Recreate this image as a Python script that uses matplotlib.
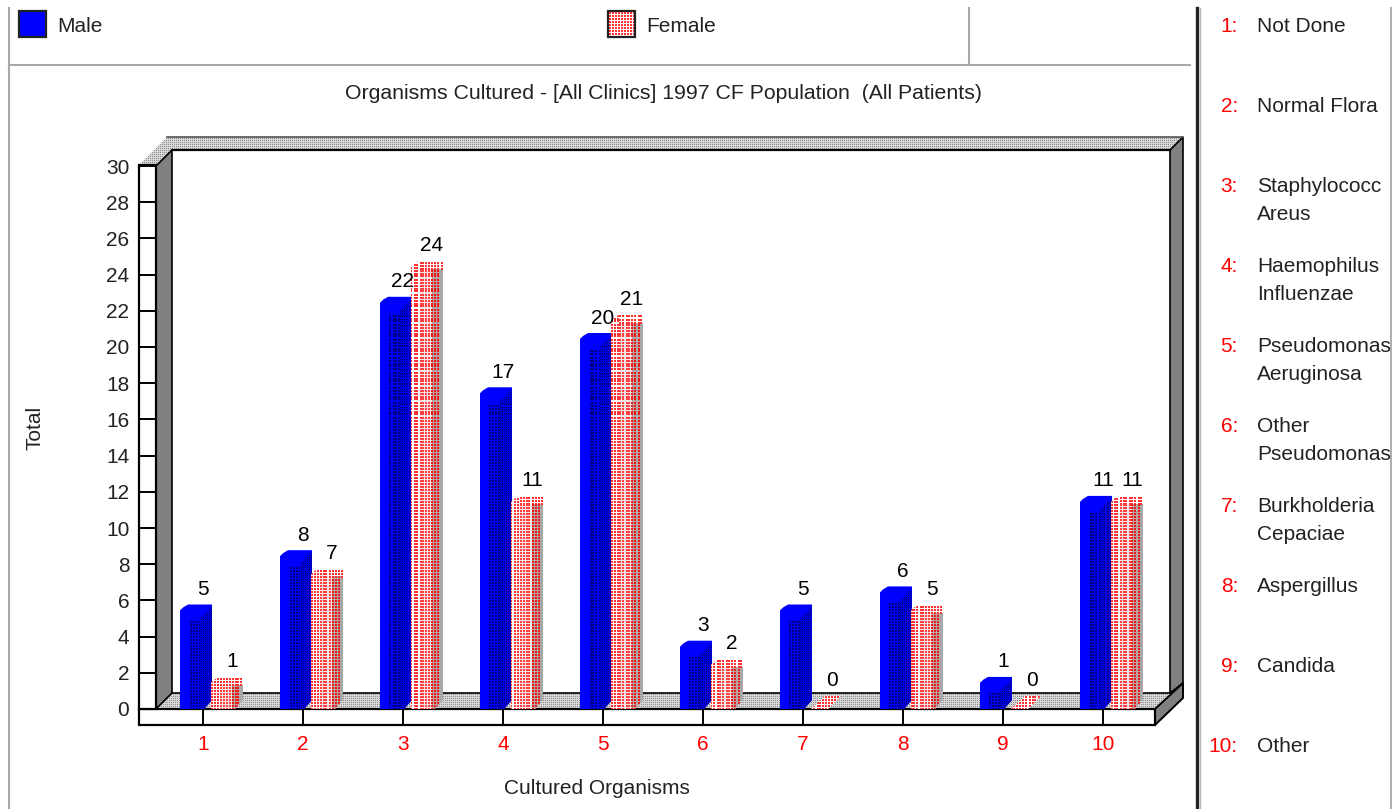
import matplotlib
matplotlib.use("Agg")
import matplotlib.pyplot as plt
import numpy as np
from matplotlib.patches import Polygon, Rectangle

plt.rcParams['font.family'] = ['Liberation Sans', 'DejaVu Sans']

categories = [1, 2, 3, 4, 5, 6, 7, 8, 9, 10]
male = [5, 8, 22, 17, 20, 3, 5, 6, 1, 11]
female = [1, 7, 24, 11, 21, 2, 0, 5, 0, 11]
y_ticks = list(range(0, 31, 2))

title = "Organisms Cultured - [All Clinics] 1997 CF Population  (All Patients)"
key_numbers = ["1:", "2:", "3:", "4:", "5:", "6:", "7:", "8:", "9:", "10:"]
key_names = ["Not Done", "Normal Flora", "Staphylococc\nAreus", "Haemophilus\nInfluenzae",
             "Pseudomonas\nAeruginosa", "Other\nPseudomonas", "Burkholderia\nCepaciae",
             "Aspergillus", "Candida", "Other"]

W, H = 1392, 809
FS = 15
BLUE = "#0000ff"
RED = "#ff0000"
DARK = "#222222"
GREY = "#a8a8a8"

fig = plt.figure(figsize=(W / 100, H / 100), dpi=100, facecolor="white")

# ====== Window chrome and 3D box, in pixels ======
bg = fig.add_axes([0, 0, 1, 1], zorder=0)
bg.axis("off")


def stipple(ax, clip, xs, ys, color, size, zorder=2):
    # grid of tiny squares clipped to a polygon; size is in figure pixels
    gx, gy = np.meshgrid(xs, ys)
    coll = ax.scatter(gx.ravel(), gy.ravel(), s=(size * 0.72) ** 2, marker="s", color=color,
                      linewidths=0, zorder=zorder)
    coll.set_clip_path(clip)


def dithered(pts, x_a, x_b, y_a, y_b):
    shape = Polygon(pts, closed=True, facecolor="#d8d8d8", edgecolor="none", zorder=1)
    bg.add_patch(shape)
    stipple(bg, shape, np.arange(x_a, x_b, 2) + 0.5, np.arange(y_a, y_b, 2) + 0.5, "#8c8c8c", 1)


bg.plot([9, 9], [8, H], color=GREY, lw=1.5)
bg.plot([9, 968], [65, 65], color=GREY, lw=1.5)
bg.plot([971, 1190], [65, 65], color=GREY, lw=1.5)
bg.plot([969, 969], [8, 65], color=GREY, lw=1.5)
bg.plot([1197, 1197], [8, H], color="#222222", lw=2.4)
bg.plot([1199.5, 1199.5], [8, H], color="#b8b8b8", lw=1)
bg.plot([1391, 1391], [8, H], color="#b0b0b0", lw=1.5)

# top band and floor are dithered, side walls plain grey
dithered([(139, 165), (167, 137), (1183, 137), (1170, 150), (172, 150), (156, 165)], 139, 1183, 137, 165)
dithered([(156, 709), (172, 693), (1170, 693), (1155, 709)], 156, 1170, 693, 709)
bg.add_patch(Polygon([(156, 166), (172, 150), (172, 693), (156, 709)], facecolor="#808080", edgecolor="black", linewidth=1.2, zorder=3))
bg.add_patch(Polygon([(1170, 150), (1183, 137), (1183, 683), (1170, 693)], facecolor="#808080", edgecolor="black", linewidth=1.2, zorder=3))
bg.add_patch(Polygon([(1155, 709), (1183, 683), (1183, 698), (1155, 725)], facecolor="#808080", edgecolor="black", linewidth=1.4, zorder=3))
bg.add_patch(Rectangle((139, 709), 1016, 16, facecolor="white", edgecolor="black", linewidth=1.6, zorder=3))
bg.add_patch(Rectangle((139, 165), 17, 544, facecolor="white", edgecolor="black", linewidth=1.6, zorder=3))
bg.plot([172, 1170], [150, 150], color="black", lw=1.6, zorder=3)
bg.plot([167, 1183], [137, 137], color="#555555", lw=1.2, zorder=3)
bg.plot([172, 1170], [693, 693], color="black", lw=1.2, zorder=3)

# legend swatches
bg.add_patch(Rectangle((19, 11), 27, 26, facecolor=BLUE, edgecolor=DARK, linewidth=1.6, zorder=3))
sw = Rectangle((608, 11), 27, 26, facecolor="white", edgecolor="none", zorder=1)
bg.add_patch(sw)
stipple(bg, sw, np.arange(609, 635, 3) + 0.5, np.arange(12, 37, 3) + 0.5, "#ff3030", 2)
bg.add_patch(Rectangle((608, 11), 27, 26, facecolor="none", edgecolor=DARK, linewidth=1.6, zorder=3))
bg.text(57, 26, "Male", fontsize=FS, color=DARK, va="center")
bg.text(646, 26, "Female", fontsize=FS, color=DARK, va="center")

bg.text(663.5, 93, title, fontsize=15.3, color=DARK, ha="center", va="center")
bg.text(35, 428, "Total", fontsize=FS, color=DARK, rotation=90, ha="center", va="center")
bg.text(597, 788.5, "Cultured Organisms", fontsize=FS, color=DARK, ha="center", va="center")

# key down the right side
key_y = [26, 106, 186, 266, 346, 426, 506, 586, 666, 746]
for num, name, yy in zip(key_numbers, key_names, key_y):
    bg.text(1238, yy, num, fontsize=FS, color=RED, ha="right", va="center")
    for i, line in enumerate(name.split("\n")):
        bg.text(1257, yy + 28 * i, line, fontsize=FS, color=DARK, va="center")

bg.set_xlim(0, W)
bg.set_ylim(H, 0)

# ====== Bars on real axes ======
x0, x1, y0, y1 = 156, 1155, 709, 166
ax = fig.add_axes([x0 / W, 1 - y0 / H, (x1 - x0) / W, (y0 - y1) / H], zorder=1)
ax.patch.set_alpha(0)
for s in ["top", "right", "bottom", "left"]:
    ax.spines[s].set_visible(False)

px_x = 1 / 100.0
px_y = 30 / 543.0


def silhouette(left, v):
    return [(left, 0), (left, v + 8 * px_y), (left + 3 * px_x, v + 11 * px_y), (left + 8 * px_x, v + 14 * px_y),
            (left + 32 * px_x, v + 14 * px_y), (left + 32 * px_x, 9 * px_y), (left + 24 * px_x, 0)]


def grid_x(left, c_a, c_b, step):
    return left + (np.arange(c_a, c_b, step) + 0.5) * px_x


def grid_y(y_a, y_b, step):
    return (np.arange(y_a, y_b, step) + 0.5) * px_y


def band(left, c_a, c_b, v_top, color, clip):
    p = Polygon([(left + c_a * px_x, 0), (left + c_a * px_x, v_top), (left + c_b * px_x, v_top), (left + c_b * px_x, 0)],
                closed=True, facecolor=color, edgecolor="none", zorder=2)
    ax.add_patch(p)
    p.set_clip_path(clip)


def draw_male(left, v):
    shape = Polygon(silhouette(left, v), closed=True, facecolor=BLUE, edgecolor="none", zorder=2)
    ax.add_patch(shape)
    top_px = int(v / px_y)
    stipple(ax, shape, grid_x(left, 10, 20, 3), grid_y(0, top_px - 2, 3), "#000080", 1.2)
    # side face, dense dark dots under a sloping top edge
    side = Polygon([(left + 20 * px_x, 0), (left + 20 * px_x, v), (left + 32 * px_x, v + 12 * px_y),
                    (left + 32 * px_x, 9 * px_y), (left + 24 * px_x, 0)],
                   closed=True, facecolor="#0000e0", edgecolor="none", zorder=2)
    ax.add_patch(side)
    stipple(ax, side, grid_x(left, 20, 32, 2), grid_y(0, top_px + 14, 2), "#000070", 1)


def draw_female(left, v):
    if v == 0:
        shape = Polygon([(left, 0), (left + 14 * px_x, 13 * px_y), (left + 30 * px_x, 13 * px_y), (left + 17 * px_x, 0)],
                        closed=True, facecolor="white", edgecolor="none", zorder=2)
        ax.add_patch(shape)
        stipple(ax, shape, grid_x(left, 0, 32, 3), grid_y(0, 14, 3), "#ff3030", 2)
        return
    shape = Polygon(silhouette(left, v), closed=True, facecolor="white", edgecolor="none", zorder=2)
    ax.add_patch(shape)
    top_px = int(v / px_y)
    band_top = v + 6 * px_y
    band(left, 9, 21, band_top, "#f2e4e4", shape)
    band(left, 21, 29, band_top, "#b4a4a4", shape)
    band(left, 29, 32, band_top, "#a8a8a8", shape)
    # every zone carries red dots, smaller in the middle zone
    stipple(ax, shape, grid_x(left, 0, 9, 3), grid_y(0, top_px + 14, 3), "#ff3030", 2)
    stipple(ax, shape, grid_x(left, 9, 32, 3), grid_y(top_px + 6, top_px + 14, 3), "#ff3030", 2)
    stipple(ax, shape, grid_x(left, 9, 21, 3), grid_y(0, top_px + 6, 3), "#ff4040", 1.2)
    stipple(ax, shape, grid_x(left, 21, 29, 3), grid_y(0, top_px + 6, 3), "#ee1818", 2)


for x, m, f in zip(categories, male, female):
    draw_male(x - 0.23, m)
    draw_female(x + 0.08, f)
    ax.annotate(str(m), (x, m), xytext=(0, 29), textcoords="offset pixels",
                ha="center", va="center", fontsize=FS, color="black", annotation_clip=False, zorder=5)
    ax.annotate(str(f), (x + 0.29, f), xytext=(0, 29), textcoords="offset pixels",
                ha="center", va="center", fontsize=FS, color="black", annotation_clip=False, zorder=5)

ax.set_xlim(0.53, 10.52)
ax.set_ylim(0, 30)
ax.set_xticks(categories)
ax.set_xticklabels(categories, fontsize=FS, color=RED)
ax.set_yticks(y_ticks)
ax.set_yticklabels(y_ticks, fontsize=FS, color=DARK)
ax.tick_params(axis="x", length=11.5, width=1.4, pad=7)
ax.tick_params(axis="y", length=12.2, width=1.4, pad=7)

fig.savefig("out.png", dpi=100)
